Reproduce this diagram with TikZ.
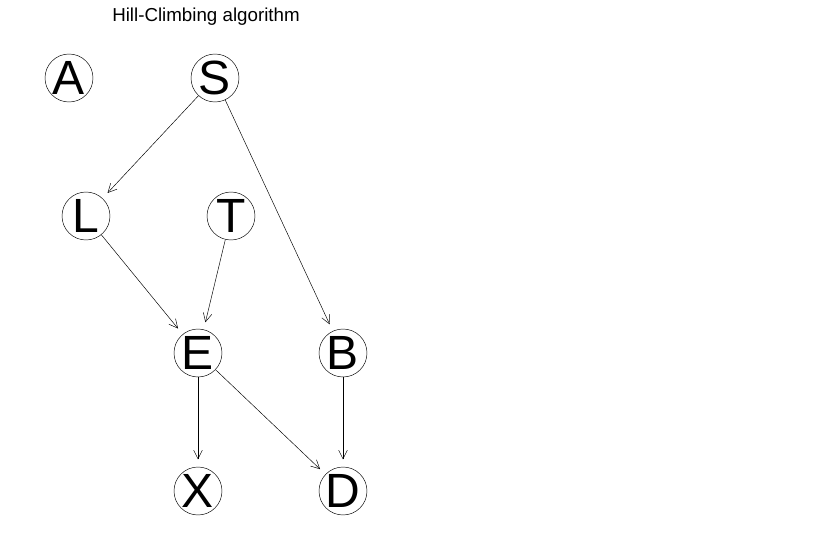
\documentclass[tikz,border=0pt]{standalone}
\usepackage{fontspec}
\setmainfont{Liberation Sans}
\usetikzlibrary{positioning,arrows.meta}

\begin{document}
\begin{tikzpicture}[x=0.3mm,y=-0.3mm]
\tikzset{var/.style={circle, draw, thin, minimum size=14.4mm, inner sep=0pt, font=\fontsize{41}{41}\selectfont},
edge/.style={-{Straight Barb[length=2.6mm,width=2.6mm]}, thin, shorten >=2.2mm}}
\useasboundingbox (0,0) rectangle (832,540);

\node (title) at (206,17) {\fontsize{16}{16}\selectfont Hill-Climbing algorithm};

\node (A) [var] at (69,78) {A};
\node (S) [var] at (215,78) {S};
\node (L) [var] at (86,216) {L};
\node (T) [var] at (231,216) {T};
\node (E) [var] at (198,353) {E};
\node (B) [var] at (343,353) {B};
\node (X) [var] at (198,491) {X};
\node (D) [var] at (343,491) {D};

\draw [edge] (S) -- (L);
\draw [edge] (S) -- (B);
\draw [edge] (L) -- (E);
\draw [edge] (T) -- (E);
\draw [edge] (E) -- (X);
\draw [edge] (E) -- (D);
\draw [edge] (B) -- (D);
\end{tikzpicture}
\end{document}
